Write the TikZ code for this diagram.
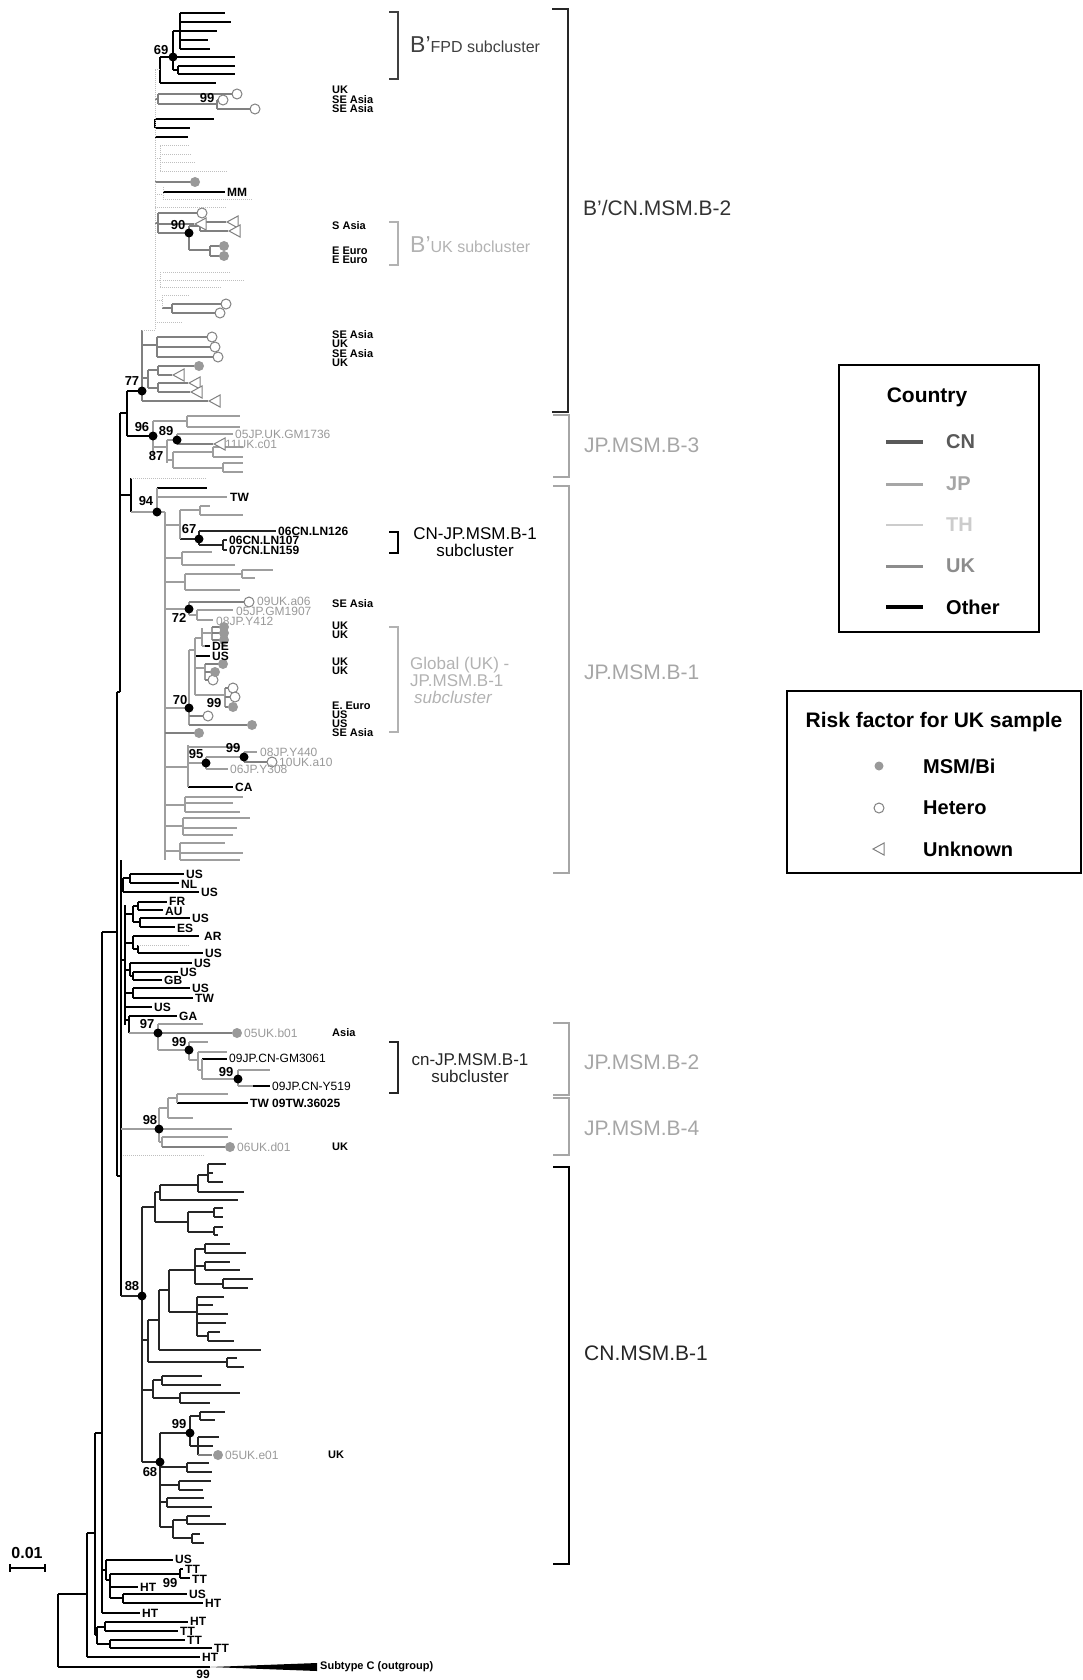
\documentclass[tikz,border=0pt]{standalone}
\usepackage{fontspec}
\setmainfont{Liberation Sans}
\usetikzlibrary{calc}

\newcommand{\fsz}[1]{\fontsize{#1}{#1}\selectfont}
\newcommand{\unk}[2]{\draw[black!50,line width=1pt,fill=white] (#1,#2) -- ++(11,-6) -- ++(0,12) -- cycle;}

\begin{document}
\begin{tikzpicture}[x=1pt,y=-1pt,
  other/.style={line width=1.4pt,black},
  cn/.style={line width=1.4pt,black!85},
  jp/.style={line width=1.2pt,black!38},
  uk/.style={line width=1.2pt,black!50},
  th/.style={line width=1pt,black!25,densely dotted},
  backbone/.style={line width=2.8pt,black},
  bsdot/.style={circle,fill=black,inner sep=0pt,minimum size=9pt},
  msm/.style={circle,fill=black!40,inner sep=0pt,minimum size=10pt},
  het/.style={circle,draw=black!50,line width=1pt,fill=white,inner sep=0pt,minimum size=10pt},
  bs/.style={font=\bfseries\fsz{13},inner sep=0pt},
  geolbl/.style={font=\bfseries\fsz{11},anchor=west,inner sep=0pt},
  leaflbl/.style={font=\bfseries\fsz{12},anchor=west,inner sep=1pt},
  seqlbl/.style={font=\fsz{12},anchor=west,inner sep=1pt,text=black!40},
  clulbl/.style={font=\fsz{21},anchor=west,inner sep=0pt},
  brk/.style={line width=1.6pt}]
\useasboundingbox (0,0) rectangle (1083,1680);

% ---- black (other) branches
\foreach \x/\a/\b in {58/1594/1667,87/1533/1657,95/1433/1635,97/1627/1644,105/1622/1631,
  110/1640/1648,102/932/1613,106/1560/1580,110/1574/1598,180/1569/1578,123/1594/1603,
  120/413/692,127/391/436,131/478/512,160/57/83,173/31/70,180/13/49,178/66/74,155/119/128,
  123/878/892,130/874/883,125/905/1025,133/906/922,138/902/910,140/918/927,133/936/949,
  138/945/953,130/963/976,133/972/980,133/988/998,129/1016/1033}
  \draw[other] (\x,\a) -- (\x,\b);
\foreach \a/\b/\y in {58/210/1667,58/87/1594,87/95/1533,87/200/1657,95/102/1433,95/97/1635,
  97/105/1627,105/188/1622,105/178/1631,97/110/1644,110/185/1640,110/212/1648,102/117/932,
  102/106/1570,106/173/1560,106/110/1580,110/180/1574,180/183/1569,180/190/1578,110/138/1587,
  110/123/1598,123/187/1594,123/203/1603,102/140/1613,117/120/692,120/127/413,127/142/391,
  127/153/436,120/131/495,157/207/488,117/121/1176,160/173/57,173/180/31,173/235/57,
  173/178/70,180/225/13,180/231/22,180/217/31,180/208/40,180/210/49,178/235/66,178/235/74,
  160/216/83,155/214/119,155/190/128,155/188/137,163/225/192,121/123/885,123/130/878,
  130/184/874,130/179/883,123/199/892,121/125/960,125/133/914,133/138/906,138/167/902,
  138/163/910,133/140/922,140/190/918,140/175/927,125/133/943,133/199/936,133/138/949,
  138/203/953,125/130/970,130/192/963,130/133/976,133/178/972,133/162/980,125/133/993,
  133/190/988,133/193/998,125/152/1007,125/129/1020,129/177/1016,205/210/646,195/210/656,
  188/233/787,202/227/1059,253/270/1086,177/248/1103}
  \draw[other] (\a,\y) -- (\b,\y);
\draw[backbone] (117,692) -- (117,1176);
\draw[backbone] (121,860) -- (121,1296);
\fill[black] (210,1667) -- (317,1663) -- (317,1671) -- cycle;

% ---- CN branches
\foreach \x/\a/\b in {142/1207/1462,155/1192/1222,160/1185/1200,198/1175/1192,208/1164/1182,
  188/1212/1232,214/1208/1217,214/1227/1235,148/1320/1362,159/1290/1350,169/1270/1312,
  195/1249/1284,205/1244/1253,205/1262/1270,223/1279/1288,197/1297/1336,208/1332/1341,
  227/1358/1367,153/1380/1398,162/1376/1385,180/1393/1403,160/1433/1527,190/1416/1446,
  200/1412/1420,198/1437/1455,187/1463/1472,179/1481/1490,167/1498/1507,173/1520/1538,
  187/1516/1524,192/1534/1543,199/531/545,223/540/550}
  \draw[cn] (\x,\a) -- (\x,\b);
\foreach \a/\b/\y in {121/142/1296,142/155/1207,155/160/1192,160/198/1185,198/208/1175,
  208/226/1164,208/213/1173,208/223/1182,198/244/1192,160/238/1200,155/188/1222,188/214/1212,
  214/223/1208,214/223/1217,188/214/1232,214/223/1227,214/218/1235,142/148/1340,148/159/1320,
  159/169/1290,169/195/1270,195/205/1249,205/230/1244,205/246/1253,195/205/1266,205/230/1262,
  205/240/1270,195/223/1284,223/253/1279,223/248/1288,169/197/1312,197/224/1297,197/213/1305,
  197/228/1314,197/226/1323,197/208/1336,208/220/1332,208/234/1341,159/261/1350,148/227/1362,
  227/237/1358,227/244/1367,142/153/1390,153/162/1380,162/202/1376,162/221/1385,153/180/1398,
  180/240/1393,180/210/1403,142/160/1462,160/190/1433,190/200/1416,200/225/1412,200/215/1420,
  190/198/1446,198/219/1437,198/213/1446,160/187/1467,187/209/1463,187/212/1472,160/179/1485,
  179/211/1481,179/203/1490,160/167/1502,167/204/1498,167/212/1507,160/173/1527,173/187/1520,
  187/210/1516,187/226/1524,173/192/1538,192/200/1534,192/204/1543,180/199/539,199/276/531,
  199/223/545,223/227/540,223/227/550}
  \draw[cn] (\a,\y) -- (\b,\y);

% ---- JP branches
\foreach \x/\a/\b in {153/421/455,187/416/427,167/440/463,177/434/444,173/452/468,213/447/457,
  223/463/472,157/488/512,165/512/860,180/510/539,200/506/515,182/552/565,185/574/590,
  242/570/578,189/602/615,197/610/620,189/650/725,195/638/695,202/628/646,212/627/640,
  205/664/680,225/688/707,188/745/787,206/757/769,244/752/762,185/797/812,183/818/835,
  180/843/860,158/1024/1050,189/1042/1060,198/1052/1070,202/1059/1079,238/1070/1086,
  159/1108/1142,168/1098/1118,177/1094/1103,162/1137/1147}
  \draw[jp] (\x,\a) -- (\x,\b);
\foreach \a/\b/\y in {153/187/421,187/240/416,187/240/427,153/167/447,167/177/440,177/233/434,
  167/173/460,173/213/452,213/243/447,213/243/457,173/223/468,223/243/463,223/243/472,
  131/165/512,157/227/497,165/180/525,180/200/510,200/210/506,200/243/515,165/182/558,
  182/212/552,182/235/565,165/185/582,185/242/574,242/273/570,242/255/578,185/240/590,
  165/189/609,189/197/615,197/233/610,197/213/620,165/189/708,189/195/650,195/202/638,
  202/212/633,202/205/646,195/205/668,195/225/695,165/188/767,188/240/747,188/206/763,
  206/244/757,244/257/752,206/228/769,165/185/805,185/243/797,185/233/803,185/240/812,
  165/183/826,183/250/818,183/237/828,183/233/835,165/180/851,180/225/843,180/243/853,
  180/240/860,129/158/1033,158/203/1024,158/189/1050,189/208/1042,189/198/1060,198/227/1052,
  198/202/1070,202/238/1079,238/270/1070,238/253/1086,121/159/1129,159/168/1108,168/177/1098,
  177/228/1094,168/193/1118,159/232/1129,159/162/1142,162/228/1137}
  \draw[jp] (\a,\y) -- (\b,\y);

% ---- UK branches
\foreach \x/\a/\b in {158/94/104,217/100/109,158/213/233,189/226/250,200/222/231,210/246/256,
  172/304/313,142/330/401,157/337/357,148/370/388,158/366/375,158/383/392}
  \draw[uk] (\x,\a) -- (\x,\b);
\foreach \a/\b/\y in {155/158/99,158/232/94,158/217/104,217/219/100,217/250/109,155/191/182,
  155/158/223,158/197/213,158/194/224,158/189/233,189/200/226,200/226/222,200/228/231,
  189/210/250,210/220/246,210/220/256,162/172/308,172/221/304,172/215/313,142/157/345,
  157/207/337,157/210/347,157/213/357,142/148/378,148/158/370,158/194/366,158/172/375,
  148/158/388,158/188/383,158/190/392,142/208/401,177/213/444,189/245/602,212/220/627,
  212/220/633,212/220/640,205/219/664,205/211/672,205/209/680,225/228/688,225/230/697,
  225/228/707,189/203/716,189/247/725,165/195/733,244/267/762,158/232/1033,162/225/1147,
  198/212/1455}
  \draw[uk] (\a,\y) -- (\b,\y);

% ---- TH branches
\foreach \x/\a/\b in {155/70/330,160/146/172,163/187/200,160/272/287,162/295/308}
  \draw[th] (\x,\a) -- (\x,\b);
\foreach \a/\b/\y in {155/160/70,155/160/159,160/190/146,160/192/155,162/195/163,160/228/172,
  155/163/195,163/253/200,155/227/208,155/160/280,163/230/272,163/245/280,160/222/287,
  155/162/300,162/190/295,155/182/322,142/155/330,131/207/478,138/190/945,123/205/1155}
  \draw[th] (\a,\y) -- (\b,\y);

% ---- risk factor marks
\foreach \x/\y in {237/94,223/100,255/109,202/213,226/304,220/313,212/337,215/347,218/357,
  249/602,213/680,233/688,235/697,208/716,272/762}
  \node[het] at (\x,\y) {};
\foreach \x/\y in {195/182,224/246,224/256,199/366,224/627,224/633,224/640,223/664,215/672,
  233/707,252/725,199/733,237/1033,230/1147,218/1455}
  \node[msm] at (\x,\y) {};
\foreach \x/\y in {195/224,227/222,229/231,173/375,189/383,191/392,209/401,214/444}
  {\unk{\x}{\y}}

% ---- bootstrap support
\foreach \n/\x/\y in {a/173/57,b/189/233,c/142/391,d/153/436,e/177/440,f/157/512,g/199/539,
  h/189/609,i/189/708,j/244/757,k/206/763,l/158/1033,m/189/1050,n/238/1079,o/159/1129,
  p/142/1296,q/190/1433,r/160/1462}
  \node[bsdot] (bs\n) at (\x,\y) {};
\foreach \x/\y/\t in {161/50/69,207/98/99,178/225/90,132/381/77,142/427/96,166/431/89,
  156/456/87,146/501/94,189/529/67,179/618/72,180/700/70,214/703/99,233/748/99,196/754/95,
  147/1024/97,179/1042/99,226/1072/99,150/1120/98,132/1286/88,179/1424/99,150/1472/68,
  170/1583/99}
  \node[bs] at (\x,\y) {\t};
\node[bs,font=\bfseries\fsz{12}] at (203,1674) {99};

% ---- tip labels
\foreach \y/\t in {90/UK,100/SE Asia,109/SE Asia,226/S Asia,251/E Euro,260/E Euro,
  335/SE Asia,344/UK,354/SE Asia,363/UK,604/SE Asia,626/UK,635/UK,662/UK,671/UK,
  706/E. Euro,715/US,724/US,733/SE Asia,1033/Asia,1147/UK}
  \node[geolbl] at (332,\y) {\t};
\node[geolbl] at (328,1455) {UK};
\foreach \x/\y/\t in {226/192/MM,229/497/TW,277/531/06CN.LN126,228/540/06CN.LN107,
  228/550/07CN.LN159,211/646/DE,211/656/US,234/787/CA,185/874/US,180/884/NL,200/892/US,
  168/901/FR,164/911/AU,191/918/US,176/928/ES,203/936/AR,204/953/US,193/963/US,179/972/US,
  163/980/GB,191/988/US,194/998/TW,153/1007/US,178/1016/GA,249/1103/TW 09TW.36025,
  174/1559/US,184/1569/TT,191/1579/TT,139/1587/HT,188/1594/US,204/1603/HT,141/1613/HT,
  189/1621/HT,179/1631/TT,186/1640/TT,213/1648/TT,201/1657/HT}
  \node[leaflbl] at (\x,\y) {\t};
\node[leaflbl,font=\fsz{12}] at (228,1058) {09JP.CN-GM3061};
\node[leaflbl,font=\fsz{12}] at (271,1086) {09JP.CN-Y519};
\foreach \x/\y/\t in {234/434/05JP.UK.GM1736,224/444/11UK.c01,256/601/09UK.a06,
  235/611/05JP.GM1907,215/621/08JP.Y412,259/752/08JP.Y440,278/762/10UK.a10,
  229/769/06JP.Y308,243/1033/05UK.b01,236/1147/06UK.d01,224/1455/05UK.e01}
  \node[seqlbl] at (\x,\y) {\t};
\node[geolbl] at (320,1667) {Subtype C (outgroup)};

% ---- scale bar
\node[font=\bfseries\fsz{16}] at (27,1553) {0.01};
\draw[line width=1.3pt] (10,1568) -- (45,1568) (10,1564) -- (10,1572) (45,1564) -- (45,1572);

% ---- cluster brackets
\foreach \x/\l/\t/\b/\c in {398/9/12/79/black!75,568/16/9/412/black!85,398/9/222/265/black!30,
  569/16/415/477/black!35,569/16/486/873/black!35,398/9/532/553/black,398/9/627/732/black!30,
  398/9/1042/1093/black!85,569/16/1023/1095/black!35,569/16/1098/1155/black!35,
  569/16/1167/1564/black}
  {\draw[brk,draw=\c] ({\x-\l},\t) -- (\x,\t) -- (\x,\b) -- ({\x-\l},\b);}
\node[clulbl,text=black!75] at (410,45) {\fsz{23}B'\fsz{16}FPD subcluster};
\node[clulbl,text=black!30] at (410,245) {\fsz{23}B'\fsz{16}UK subcluster};
\node[clulbl,text=black!80] at (583,208) {B'/CN.MSM.B-2};
\node[clulbl,text=black!35] at (584,445) {JP.MSM.B-3};
\node[clulbl,text=black!35] at (584,672) {JP.MSM.B-1};
\node[clulbl,text=black!35] at (584,1062) {JP.MSM.B-2};
\node[clulbl,text=black!35] at (584,1128) {JP.MSM.B-4};
\node[clulbl,text=black!85] at (584,1353) {CN.MSM.B-1};
\node[font=\fsz{17},align=center] at (475,542) {CN-JP.MSM.B-1\\subcluster};
\node[font=\fsz{17},align=center,text=black!85] at (470,1068) {cn-JP.MSM.B-1\\subcluster};
\node[font=\fsz{17},align=left,anchor=west,text=black!30,inner sep=0pt] at (410,680)
  {Global (UK) -\\JP.MSM.B-1\\\hspace*{4pt}\textit{subcluster}};

% ---- legends
\draw[line width=1.2pt] (839,365) rectangle (1039,632);
\node[font=\bfseries\fsz{21}] at (927,397) {Country};
\foreach \y/\s/\c/\t in {442/3.5pt/black!65/CN,484/3pt/black!35/JP,525/2.5pt/black!20/TH,
  566/3pt/black!45/UK,607/3.5pt/black/Other}
{
  \draw[line width=\s,draw=\c] (886,\y) -- (923,\y);
  \node[font=\bfseries\fsz{20},anchor=west,inner sep=0pt,text=\c] at (946,\y) {\t};
}
\draw[line width=1.2pt] (787,691) rectangle (1081,873);
\node[font=\bfseries\fsz{21}] at (934,722) {Risk factor for UK sample};
\node[msm,minimum size=9pt] at (879,766) {};
\node[het,minimum size=10pt] at (879,808) {};
\unk{873}{849}
\foreach \y/\t in {766/{MSM/Bi},808/Hetero,849/Unknown}
  \node[font=\bfseries\fsz{20},anchor=west,inner sep=0pt] at (923,\y) {\t};
\end{tikzpicture}
\end{document}
